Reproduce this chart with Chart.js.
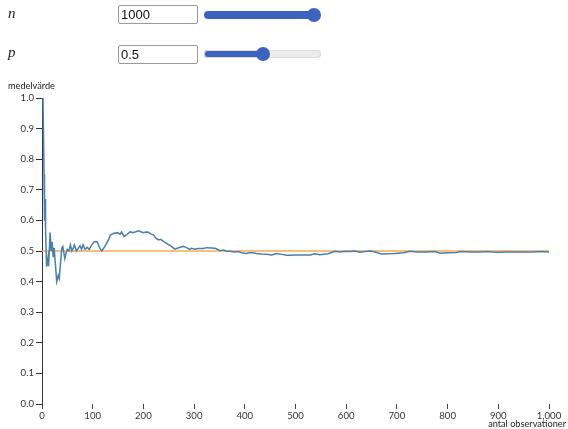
<!DOCTYPE html>
<html>
<head>
<meta charset="utf-8">
<script src="https://cdn.jsdelivr.net/npm/chart.js@4/dist/chart.umd.min.js"></script>
<style>
  html, body { margin:0; padding:0; background:#fff; }
  body { width:568px; height:429px; position:relative; overflow:hidden; font-family: "Liberation Sans", Arial, sans-serif; }
  .lbl { position:absolute; left:8px; font-family:"Liberation Serif", "DejaVu Serif", serif; font-style:italic; font-size:15px; color:#222; }
  .num { position:absolute; left:118px; width:80px; height:19px; box-sizing:border-box; border:1px solid #9a9a9a; border-radius:2px; font-family:"Liberation Sans", Arial, sans-serif; font-size:13px; padding:0 0 0 2px; margin:0; color:#111; background:#fff; }
  input[type=range] { position:absolute; left:204px; width:117px; height:8px; margin:0; padding:0; -webkit-appearance:none; appearance:none; border-radius:4px; outline:none; }
  input[type=range]::-webkit-slider-thumb { -webkit-appearance:none; appearance:none; width:14px; height:14px; border-radius:50%; background:#3d63bf; border:none; }
  #c { position:absolute; left:0; top:0; }
</style>
</head>
<body>
<canvas id="c" width="568" height="429"></canvas>
<div class="lbl" style="top:5px;">n</div>
<input class="num" type="text" value="1000" style="top:5px;">
<input id="sn" type="range" min="1" max="1000" step="1" value="1000" style="top:11px;">
<div class="lbl" style="top:44px;">p</div>
<input class="num" type="text" value="0.5" style="top:45px;">
<input id="sp" type="range" min="0" max="1" step="0.01" value="0.5" style="top:50px;">
<script>
// Data
const observations = [1,2,3,4,5,6,7,9,12,13,16,18,20,22,24,29,32,34,39,41,45,47,50,53,56,59,62,64,68,72,75,78,81,85,89,93,98,103,109,114,118,124,131,135,142,149,154,157,162,167,174,179,185,190,195,200,205,210,214,220,225,230,234,241,249,256,262,267,272,279,285,291,295,302,308,318,325,335,343,351,358,364,371,379,387,394,402,410,417,423,433,443,453,463,473,483,489,502,515,529,538,548,564,578,588,598,607,617,627,637,648,657,670,680,696,713,726,739,759,775,785,801,818,824,844,864,877,897,917,943,968,988,1000];
const meanValues = [1.0,1.0,1.0,0.75,0.6,0.67,0.575,0.449,0.48,0.45,0.56,0.5,0.53,0.48,0.51,0.40,0.42,0.41,0.51,0.515,0.475,0.49,0.505,0.50,0.52,0.50,0.51,0.52,0.50,0.51,0.517,0.505,0.52,0.505,0.512,0.505,0.52,0.53,0.53,0.509,0.50,0.515,0.536,0.552,0.558,0.56,0.555,0.562,0.547,0.553,0.563,0.56,0.563,0.566,0.563,0.56,0.562,0.561,0.556,0.553,0.541,0.536,0.538,0.53,0.522,0.514,0.506,0.509,0.512,0.515,0.511,0.505,0.509,0.506,0.508,0.508,0.511,0.510,0.508,0.501,0.503,0.499,0.499,0.497,0.498,0.494,0.492,0.494,0.494,0.492,0.490,0.489,0.487,0.492,0.489,0.486,0.486,0.487,0.487,0.487,0.491,0.488,0.491,0.499,0.497,0.499,0.498,0.500,0.496,0.498,0.500,0.497,0.490,0.491,0.492,0.494,0.499,0.497,0.497,0.498,0.493,0.494,0.495,0.498,0.497,0.497,0.498,0.496,0.497,0.497,0.497,0.498,0.497];
const pValue = 0.5;
const refX = [0, 1000];
const xTicks = [0,100,200,300,400,500,600,700,800,900,1000];
const yTicks = [0,0.1,0.2,0.3,0.4,0.5,0.6,0.7,0.8,0.9,1.0];
const yLabel = "medelvärde";
const xLabel = "antal observationer";

// slider fills
function fill(el){
  const pct = (el.value - el.min) / (el.max - el.min);
  const w = 117, t = 14;
  const px = t/2 + pct*(w - t);
  el.style.background = `linear-gradient(to right, #3d63bf 0px, #3d63bf ${px}px, #ececec ${px}px, #ececec 100%)`;
  el.style.boxShadow = pct < 1 ? "inset 0 0 0 1px #dcdcdc" : "none";
}
fill(document.getElementById('sn'));
fill(document.getElementById('sp'));

const FONT = "Lato, 'Noto Sans', sans-serif";
const labelsPlugin = {
  id: 'axisLabels',
  afterDraw(chart){
    const ctx = chart.ctx;
    ctx.save();
    ctx.fillStyle = '#222';
    ctx.font = "9.2px " + FONT;
    ctx.textBaseline = 'middle';
    ctx.textAlign = 'left';
    ctx.fillText(yLabel, 8, 86);
    ctx.textAlign = 'right';
    ctx.fillText(xLabel, 566, 424);
    ctx.restore();
  }
};

new Chart(document.getElementById('c'), {
  type: 'line',
  data: {
    datasets: [
      {
        data: refX.map(x => ({x, y: pValue})),
        borderColor: '#f7ad52',
        borderWidth: 1.5,
        pointRadius: 0,
        order: 2
      },
      {
        data: observations.map((x, i) => ({x, y: meanValues[i]})),
        borderColor: '#4a7fb0',
        borderWidth: 1.5,
        pointRadius: 0,
        tension: 0,
        order: 1
      }
    ]
  },
  options: {
    responsive: false,
    animation: false,
    events: [],
    layout: { padding: { top: 98, right: 19, left: 0, bottom: 0 } },
    plugins: { legend: { display: false }, tooltip: { enabled: false } },
    scales: {
      x: {
        type: 'linear', min: 0, max: 1000,
        afterBuildTicks(s){ s.ticks = xTicks.map(v => ({value: v})); },
        afterFit(s){ s.height = 25; },
        border: { display: false },
        grid: { drawOnChartArea: false, drawTicks: true, tickLength: 5, color: '#444', tickWidth: 1 },
        ticks: { color: '#333', font: { family: FONT, size: 9.6 }, padding: 1, maxRotation: 0, autoSkip: false,
          callback: v => v.toLocaleString('en-US') }
      },
      y: {
        type: 'linear', min: 0, max: 1,
        afterBuildTicks(s){ s.ticks = yTicks.map(v => ({value: v})); },
        afterFit(s){ s.width = 42; },
        border: { display: true, color: '#333', width: 1 },
        grid: { drawOnChartArea: false, drawTicks: true, tickLength: 6, color: '#333' },
        ticks: { color: '#333', font: { family: FONT, size: 9.6 }, padding: 2, autoSkip: false,
          callback: v => v.toFixed(1) }
      }
    }
  },
  plugins: [labelsPlugin]
});
</script>
</body>
</html>
